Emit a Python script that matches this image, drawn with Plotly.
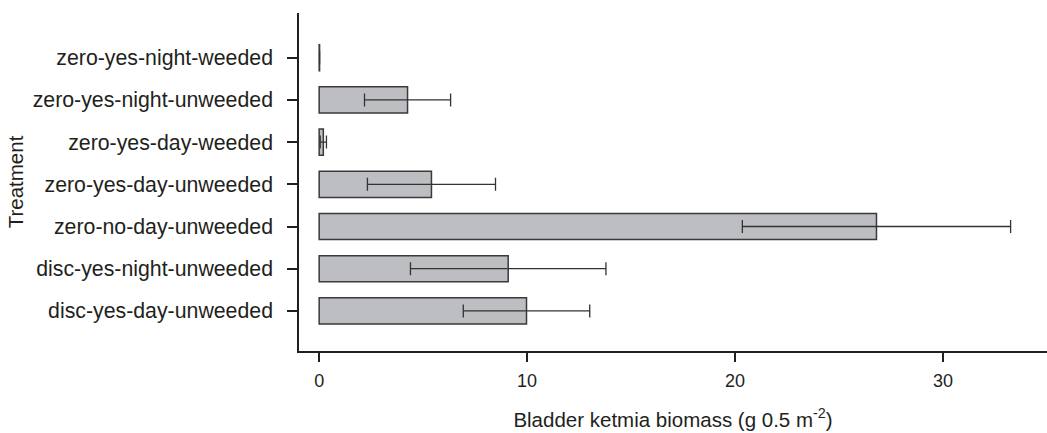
import plotly.graph_objects as go

treatments = [
    "disc-yes-day-unweeded",
    "disc-yes-night-unweeded",
    "zero-no-day-unweeded",
    "zero-yes-day-unweeded",
    "zero-yes-day-weeded",
    "zero-yes-night-unweeded",
    "zero-yes-night-weeded",
]
biomass = [9.97, 9.09, 26.8, 5.4, 0.2, 4.25, 0.02]
biomass_err = [3.04, 4.70, 6.45, 3.08, 0.15, 2.07, 0.0]

x_ticks = [0, 10, 20, 30]

ink = "#231f20"
font_family = "Liberation Sans, Arial, Helvetica, sans-serif"

fig = go.Figure()
fig.add_trace(go.Bar(
    y=treatments,
    x=biomass,
    orientation="h",
    width=0.62,
    marker=dict(color="#bdbec2", line=dict(color="#3a3a3a", width=1.5)),
    error_x=dict(type="data", array=biomass_err, visible=True,
                 color="#333333", thickness=1.3, width=6.5),
    showlegend=False,
))

fig.update_layout(
    width=1047, height=433,
    margin=dict(l=299, r=0, t=13, b=82),
    paper_bgcolor="white", plot_bgcolor="white",
    font=dict(family=font_family, color=ink),
    xaxis=dict(
        range=[-0.97, 35],
        tickvals=x_ticks,
        ticktext=[str(v) for v in x_ticks],
        ticks="outside", ticklen=9, tickwidth=1.5, tickcolor=ink,
        showline=True, linewidth=1.5, linecolor=ink,
        showgrid=False, zeroline=False,
        tickfont=dict(size=18, color=ink),
        ticklabelstandoff=4,
        automargin=False,
        title=dict(text="Bladder ketmia biomass (g 0.5 m<sup>-2</sup>)",
                   font=dict(size=20.5, color=ink), standoff=22),
    ),
    yaxis=dict(
        type="category",
        categoryorder="array", categoryarray=treatments,
        range=[-0.95, 7.06],
        ticks="outside", ticklen=10, tickwidth=1.5, tickcolor=ink,
        showline=True, linewidth=1.5, linecolor=ink,
        showgrid=False, zeroline=False,
        tickfont=dict(size=21.3, color=ink),
        ticklabelstandoff=10,
        automargin=False,
        title=dict(text="Treatment", font=dict(size=20.5, color=ink), standoff=3),
    ),
)

fig.write_html(
    "out.html",
    config={"displayModeBar": False},
    post_script="document.body.style.margin='0';document.body.style.overflow='hidden';",
)
